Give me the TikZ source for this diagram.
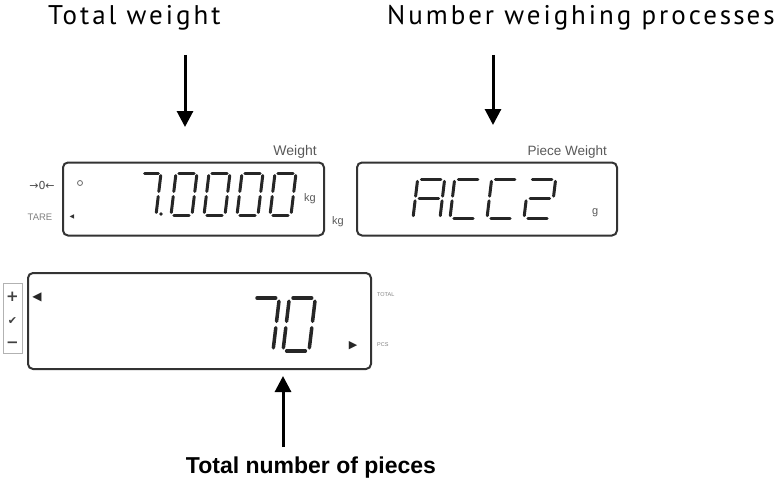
\documentclass[tikz,border=0pt]{standalone}
\usepackage{fontspec}
\setmainfont{Liberation Sans}
\newfontfamily\capfont[LetterSpace=11]{PT Sans}
\newfontfamily\symfont{DejaVu Sans}
\usetikzlibrary{arrows.meta}
% segments of one seven-segment digit, unit box
\def\sga{(0.14,1) -- (0.86,1)}
\def\sgb{(1,0.94) -- (1,0.56)}
\def\sgc{(1,0.44) -- (1,0.06)}
\def\sgd{(0.14,0) -- (0.86,0)}
\def\sge{(0,0.06) -- (0,0.44)}
\def\sgf{(0,0.56) -- (0,0.94)}
\def\sgg{(0.14,0.5) -- (0.86,0.5)}
% x, y (bottom left), width, height, segments
\newcommand{\lcddigit}[5]{%
  \begin{scope}[shift={(#1,#2)}, xslant=0.12, xscale=#3, yscale=-#4]
    \foreach \s in {#5}{\edef\segcmd{\noexpand\draw[seg] \csname sg\s\endcsname;}\segcmd}
  \end{scope}}

\begin{document}
\begin{tikzpicture}[x=1pt, y=-1pt,
  lcd/.style={draw=black!80, line width=2pt, rounded corners=5pt, inner sep=0pt},
  seg/.style={line width=3pt, line cap=round, draw=black!85},
  tag/.style={text=black!65, inner sep=0pt, font=\fontsize{14}{16}\selectfont},
  tiny/.style={text=black!50, inner sep=0pt, font=\fontsize{5.5}{6}\selectfont},
  sym/.style={inner sep=0pt, font=\symfont\fontsize{#1}{#1}\selectfont},
  heading/.style={inner sep=0pt, font=\capfont\fontsize{27}{30}\selectfont},
  ptr/.style={line width=3pt, -{Triangle[width=16pt,length=16pt]}}]
\useasboundingbox (0,0) rectangle (782,495);
% headings
\node[heading, anchor=base west] (lbltotal) at (48,25) {Total weight};
\node[heading, anchor=base west] (lblcount) at (387,25) {Number weighing proces\hspace{2pt}s\hspace{2pt}es};
\node[anchor=base, inner sep=0pt, font=\bfseries\fontsize{23}{27}\selectfont] (lblpieces) at (311,473) {Total number of pieces};
% displays
\node[lcd, minimum width=261pt, minimum height=73pt] (dispw) at (193.5,199) {};
\node[lcd, minimum width=260pt, minimum height=73pt] (dispp) at (487,199) {};
\node[lcd, minimum width=343pt, minimum height=96pt] (dispn) at (199.5,321) {};
% weight display
\node[tag, anchor=base east] (tagw) at (317,155) {Weight};
\node[tag, anchor=base west, font=\fontsize{11}{12}\selectfont] (kgin) at (304,201) {kg};
\node[tag, anchor=base west, font=\fontsize{11}{12}\selectfont] (kgout) at (332,224) {kg};
\node[sym=11, text=black!70] (zero) at (42,185) {→0←};
\node[tiny, font=\fontsize{9.5}{10}\selectfont] (tare) at (40,217) {TARE};
\node[circle, draw=black!60, line width=0.8pt, minimum size=5pt, inner sep=0pt] (stab) at (80,183) {};
\node[sym=6, text=black!80] (tarem) at (72,217) {◀};
\lcddigit{137}{215}{19}{42}{a,b,c}
\lcddigit{171}{215}{21}{42}{a,b,c,d,e,f}
\lcddigit{204}{215}{21}{42}{a,b,c,d,e,f}
\lcddigit{237}{215}{21}{42}{a,b,c,d,e,f}
\lcddigit{270}{215}{21}{42}{a,b,c,d,e,f}
\fill[black!85] (161,214) circle (1.8);
% piece weight display
\node[tag, anchor=base east, font=\fontsize{13.5}{15}\selectfont] (tagp) at (607,155) {Piece Weight};
\node[tag, anchor=base west, font=\fontsize{11}{12}\selectfont] (gram) at (592,214) {g};
\lcddigit{413}{218}{27}{39}{a,b,c,e,f,g}
\lcddigit{450}{218}{27}{39}{a,d,e,f}
\lcddigit{487}{218}{27}{39}{a,d,e,f}
\lcddigit{524}{218}{27}{39}{a,b,g,e,d}
% count display
\node[draw=black!30, line width=1pt, minimum width=19pt, minimum height=70pt, inner sep=0pt] (panel) at (12.5,318) {};
\node[sym=15, text=black!75, font=\symfont\bfseries\fontsize{15}{15}\selectfont] (plus) at (12.5,297) {+};
\node[sym=11, text=black!75] (ok) at (12.5,321) {✔};
\node[sym=15, text=black!75, font=\symfont\bfseries\fontsize{15}{15}\selectfont] (minus) at (12.5,345) {−};
\node[sym=12, text=black!85] (mtot) at (37,297) {◀};
\node[sym=11, text=black!85] (mpcs) at (353,346) {▶};
\node[tiny, anchor=west] (total) at (377,295) {TOTAL};
\node[tiny, anchor=west] (pcs) at (377,345) {PCS};
\begin{scope}[seg/.append style={line width=3.5pt}]
\lcddigit{247}{351}{26}{53}{a,b,c}
\lcddigit{283}{351}{26}{53}{a,b,c,d,e,f}
\end{scope}
% pointers
\coordinate (wtop) at (185,55);
\coordinate (wend) at (185,127);
\coordinate (ptop) at (493,55);
\coordinate (pend) at (493,125);
\coordinate (nbot) at (283,447);
\coordinate (nend) at (283,376);
\draw[ptr] (wtop) -- (wend);
\draw[ptr] (ptop) -- (pend);
\draw[ptr] (nbot) -- (nend);
\end{tikzpicture}
\end{document}
